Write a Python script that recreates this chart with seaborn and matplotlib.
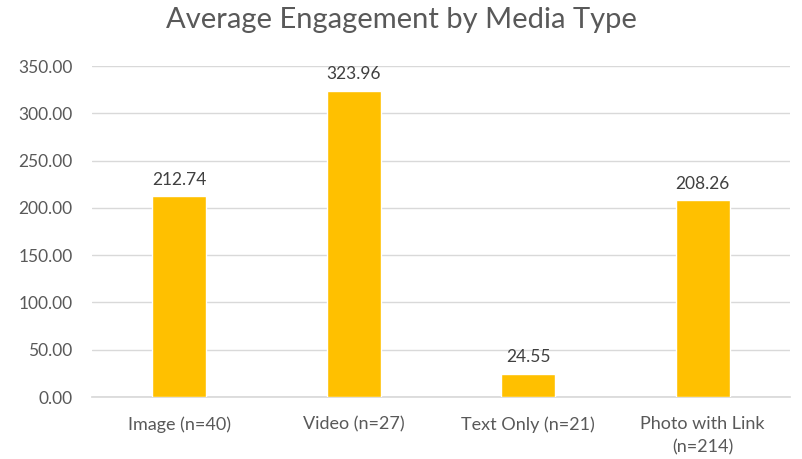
import matplotlib
matplotlib.use("Agg")
import matplotlib.pyplot as plt
import seaborn as sns
import pandas as pd

categories = ["Image (n=40)", "Video (n=27)", "Text Only (n=21)", "Photo with Link\n(n=214)"]
engagement = [212.74, 323.96, 24.55, 208.26]
y_ticks = [0, 50, 100, 150, 200, 250, 300, 350]

sns.set_theme(style="white")
plt.rcParams["font.family"] = ["Lato", "DejaVu Sans"]

df = pd.DataFrame({"media": categories, "engagement": engagement})

fig = plt.figure(figsize=(8.02, 4.59), dpi=100)
ax = fig.add_axes([0.1147, 0.135, 0.8703, 0.721])

sns.barplot(data=df, x="media", y="engagement", color="#FFC000",
            saturation=1, width=0.31, ax=ax, zorder=3)

ax.set_ylim(0, 350)
ax.set_xlim(-0.5, len(categories) - 0.5)
ax.set_yticks(y_ticks)
ax.set_yticklabels([f"{v:.2f}" for v in y_ticks], color="#595959", fontsize=12.5)
ax.tick_params(axis="x", colors="#595959", labelsize=13, pad=8)
ax.tick_params(axis="y", pad=14, length=0)
for lbl in ax.get_xticklabels():
    lbl.set_color("#595959")
    lbl.set_linespacing(1.55)
ax.yaxis.grid(True, color="#D9D9D9", linewidth=1, zorder=0)
for side in ["top", "right", "left"]:
    ax.spines[side].set_visible(False)
ax.spines["bottom"].set_color("#D9D9D9")
ax.set_xlabel("")
ax.set_ylabel("")

for i, v in enumerate(engagement):
    ax.annotate(f"{v:.2f}", (i, v), xytext=(0, 6), textcoords="offset points",
                ha="center", va="bottom", fontsize=12.5, color="#404040")

fig.suptitle("Average Engagement by Media Type", fontsize=21, color="#595959",
             y=0.985, va="top")

fig.savefig("out.png", dpi=100, facecolor="white")
